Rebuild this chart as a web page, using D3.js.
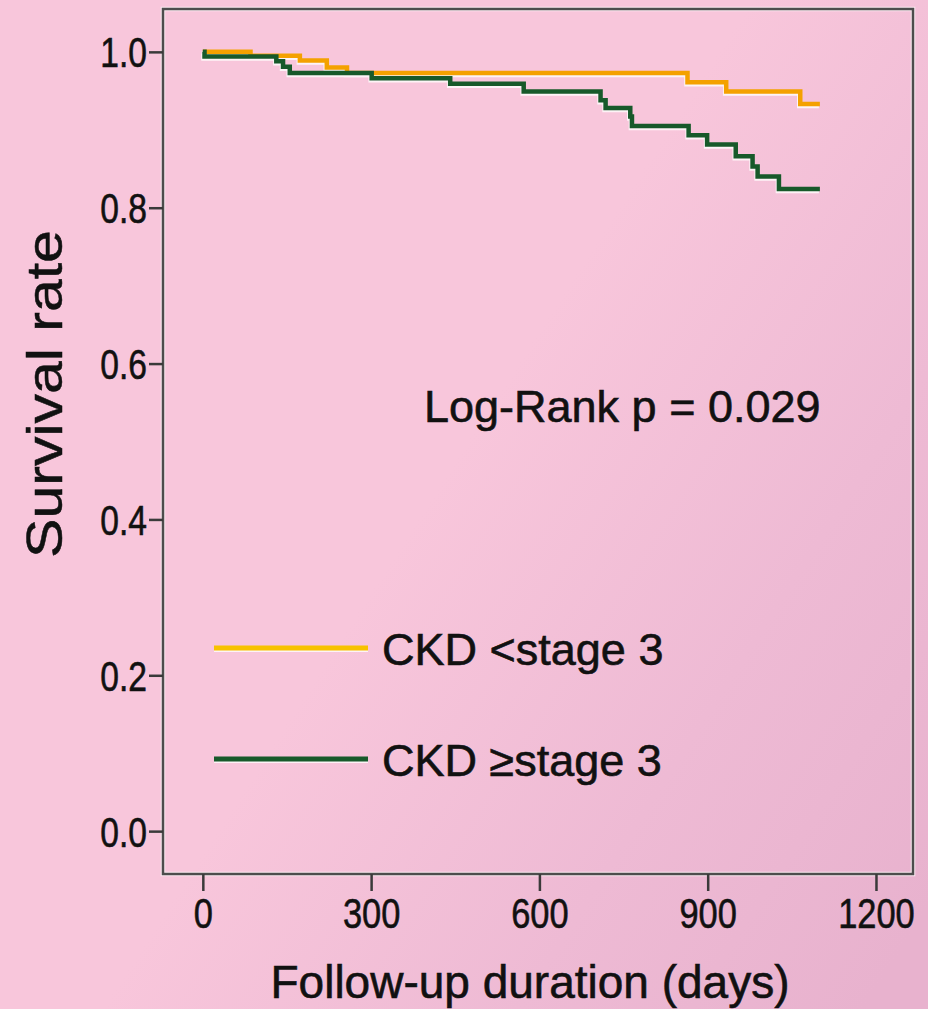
<!DOCTYPE html>
<html>
<head>
<meta charset="utf-8">
<script src="https://cdn.jsdelivr.net/npm/d3@7"></script>
<style>
  body { margin: 0; background: #f7c5da; }
  svg { display: block; font-family: "Liberation Sans", Arial, sans-serif; }
  svg text { stroke: #111; stroke-width: 0.6px; }
</style>
</head>
<body>
<div id="chart"></div>
<script>
// Kaplan-Meier steps (days, survival)
var lowDays  = [0, 85, 173, 221, 257, 864, 933, 1065, 1100]
var lowSurv  = [1.0, 0.995, 0.989, 0.980, 0.973, 0.961, 0.949, 0.933, 0.933]
var highDays = [0, 3, 131, 143, 155, 301, 441, 572, 709, 718, 762, 765, 866, 899, 950, 980, 989, 1027, 1100]
var highSurv = [1.0, 0.994, 0.988, 0.981, 0.973, 0.966, 0.959, 0.949, 0.938, 0.928, 0.917, 0.905, 0.893, 0.881, 0.866, 0.853, 0.840, 0.824, 0.824]

var groupNames = ["CKD <stage 3", "CKD \u2265stage 3"]
var curveColors = ["#f4a100", "#17592a"]
var legendColors = ["#f7c200", "#17592a"]

var xTicks = [0, 300, 600, 900, 1200]
var yTicks = [0, 0.2, 0.4, 0.6, 0.8, 1.0]
var pText = "Log-Rank p = 0.029"

var w = 928, h = 1009
// plot frame edges (note: "top" is taken by window.top)
var frameL = 163, frameR = 913, frameT = 9, frameB = 874

var svg = d3.select("#chart").append("svg")
  .attr("width", w)
  .attr("height", h)

// background, a soft pink that darkens towards the lower right
var defs = svg.append("defs")
var grad = defs.append("linearGradient")
  .attr("id", "bg")
  .attr("x1", "0").attr("y1", "0.2")
  .attr("x2", "1").attr("y2", "0.9")
grad.append("stop").attr("offset", "0.45").attr("stop-color", "#f8c6db")
grad.append("stop").attr("offset", "0.75").attr("stop-color", "#eebad4")
grad.append("stop").attr("offset", "1").attr("stop-color", "#e8b2ce")
svg.append("rect").attr("width", w).attr("height", h).attr("fill", "url(#bg)")

var x = d3.scaleLinear().domain([-71, 1266]).range([frameL, frameR])
var y = d3.scaleLinear().domain([-0.055, 1.055]).range([frameB, frameT])

// frame
svg.append("rect")
  .attr("x", frameL).attr("y", frameT)
  .attr("width", frameR - frameL).attr("height", frameB - frameT)
  .attr("fill", "none")
  .attr("stroke", "#fbeaf1")
  .attr("stroke-width", 4.5)
svg.append("rect")
  .attr("x", frameL).attr("y", frameT)
  .attr("width", frameR - frameL).attr("height", frameB - frameT)
  .attr("fill", "none")
  .attr("stroke", "#4d4d4d")
  .attr("stroke-width", 2.5)

// axes
var yAxis = svg.append("g")
  .attr("transform", "translate(" + frameL + ",0)")
  .call(d3.axisLeft(y).tickValues(yTicks).tickFormat(d3.format(".1f")).tickSize(14))
var xAxis = svg.append("g")
  .attr("transform", "translate(0," + frameB + ")")
  .call(d3.axisBottom(x).tickValues(xTicks).tickFormat(d3.format("d")).tickSize(17))

svg.selectAll(".domain").remove()
svg.selectAll(".tick line").attr("stroke", "#3a3a3a").attr("stroke-width", 2.5)
svg.selectAll(".tick text")
  .attr("fill", "#111")
  .attr("font-size", 42)
  .attr("font-family", "'Liberation Sans', Arial, sans-serif")

yAxis.selectAll(".tick text")
  .attr("x", null)
  .attr("dy", "0.36em")
  .attr("transform", "translate(-16,0) scale(0.8,1)")
xAxis.selectAll(".tick text")
  .attr("y", 54)
  .attr("dy", null)
  .attr("transform", "scale(0.82,1)")

// axis titles
svg.append("text")
  .attr("transform", "translate(62,394) scale(0.86,1) rotate(-90)")
  .attr("text-anchor", "middle")
  .attr("font-size", 59)
  .attr("fill", "#111")
  .text("Survival rate")

svg.append("text")
  .attr("x", 530).attr("y", 998)
  .attr("text-anchor", "middle")
  .attr("font-size", 46)
  .attr("fill", "#111")
  .text("Follow-up duration (days)")

// survival curves
var line = d3.line()
  .x(function(d) { return x(d[0]) })
  .y(function(d) { return y(d[1]) })
  .curve(d3.curveStepAfter)

var series = [d3.zip(lowDays, lowSurv), d3.zip(highDays, highSurv)]

series.forEach(function(data, i) {
  svg.append("path")
    .attr("d", line(data))
    .attr("fill", "none")
    .attr("stroke", "#fdf3f6")
    .attr("stroke-width", 4.5)
    .attr("transform", "translate(-1,2)")
  svg.append("path")
    .attr("d", line(data))
    .attr("fill", "none")
    .attr("stroke", curveColors[i])
    .attr("stroke-width", 4.5)
})

// p value
svg.append("text")
  .attr("x", 424).attr("y", 422)
  .attr("font-size", 45)
  .attr("fill", "#111")
  .text(pText)

// legend
var legendY = [648, 759]
groupNames.forEach(function(name, i) {
  svg.append("line")
    .attr("x1", 214).attr("x2", 368)
    .attr("y1", legendY[i] + 1.5).attr("y2", legendY[i] + 1.5)
    .attr("stroke", "#fdf3f6")
    .attr("stroke-width", 5)
  svg.append("line")
    .attr("x1", 214).attr("x2", 368)
    .attr("y1", legendY[i]).attr("y2", legendY[i])
    .attr("stroke", legendColors[i])
    .attr("stroke-width", 5)
  svg.append("text")
    .attr("x", 382).attr("y", legendY[i] + 17)
    .attr("font-size", 45)
    .attr("fill", "#111")
    .text(name)
})
</script>
</body>
</html>
